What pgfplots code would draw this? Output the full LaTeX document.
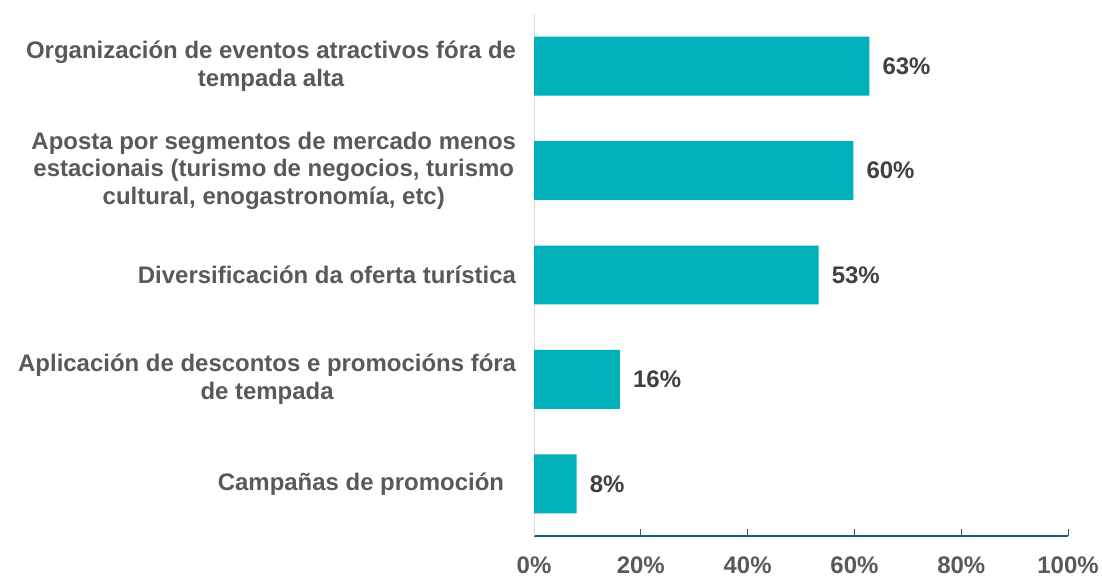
\documentclass[border=0pt]{standalone}
\usepackage{fontspec}
\setmainfont{Liberation Sans}
\usepackage{pgfplots}
\pgfplotsset{compat=1.18}
\definecolor{barteal}{RGB}{0,177,185}
\definecolor{labgray}{RGB}{89,89,89}
\definecolor{datgray}{RGB}{64,64,64}
\definecolor{axblue}{RGB}{31,92,130}
\definecolor{axgray}{RGB}{217,217,217}
\begin{document}
\begin{tikzpicture}
\begin{axis}[
  name=ax,
  scale only axis,
  width=535bp, height=523bp,
  xbar,
  xmin=0, xmax=100,
  ymin=-0.5, ymax=4.5,
  y dir=reverse,
  bar width=0.565,
  axis x line=bottom,
  axis y line=left,
  x axis line style={draw=axblue, line width=1.2bp, -},
  y axis line style={draw=axgray, line width=1bp, -},
  xtick={0,20,40,60,80,100},
  xticklabels={0\%,20\%,40\%,60\%,80\%,100\%},
  xtick align=inside,
  major tick length=7bp,
  x tick style={draw=axblue, line width=1bp},
  ytick={0,1,2,3,4},
  y tick style={draw=none},
  yticklabels={
    {Organización de eventos atractivos fóra de\\tempada alta},
    {Aposta por segmentos de mercado menos\\estacionais (turismo de negocios, turismo\\cultural, enogastronomía, etc)},
    {Diversificación da oferta turística},
    {Aplicación de descontos e promocións fóra\\de tempada},
    {Campañas de promoción\hspace*{0.5em}}
  },
  yticklabel style={align=center, font=\fontsize{24bp}{27.5bp}\selectfont\bfseries, text=labgray, xshift=-11bp},
  xticklabel style={font=\fontsize{24bp}{27bp}\selectfont\bfseries, text=labgray, yshift=-17bp},
  nodes near coords={\pgfplotspointmeta\%},
  point meta=explicit symbolic,
  nodes near coords style={font=\fontsize{24bp}{27bp}\selectfont\bfseries, text=datgray, anchor=west, inner sep=0pt, xshift=13bp},
  clip=false,
]
\addplot[fill=barteal, draw=none] coordinates {
  (62.8,0) [63]
  (59.8,1) [60]
  (53.3,2) [53]
  (16.1,3) [16]
  (8.0,4) [8]
};
\end{axis}
\path[use as bounding box] ([xshift=-535bp,yshift=-40bp]ax.south west) rectangle ([xshift=32bp,yshift=14bp]ax.north east);
\end{tikzpicture}
\end{document}
